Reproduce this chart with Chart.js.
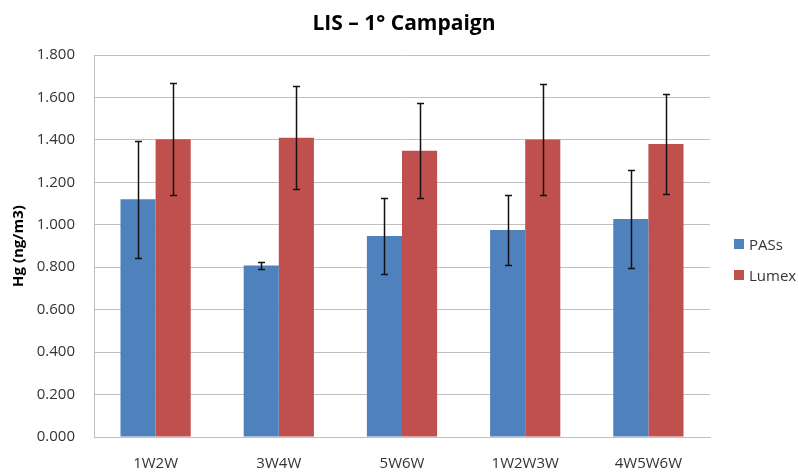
<!DOCTYPE html>
<html>
<head>
<meta charset="utf-8">
<script src="https://cdn.jsdelivr.net/npm/chart.js@4/dist/chart.umd.min.js"></script>
<style>
html,body{margin:0;padding:0;background:#fff;}
#wrap{position:relative;width:798px;height:472px;}
#title{position:absolute;left:5px;top:8px;width:798px;height:28px;line-height:28px;text-align:center;font-family:'Open Sans',sans-serif;font-weight:bold;font-size:21px;color:#000;}
.lg{position:absolute;left:734px;height:20px;display:flex;align-items:center;font-family:'Open Sans',sans-serif;font-size:15px;color:#333;white-space:nowrap;}
.lg i{display:inline-block;width:10px;height:10px;margin-right:5px;}
</style>
</head>
<body>
<div id="wrap">
  <canvas id="c" width="798" height="472"></canvas>
  <div id="title"></div>
  <div id="legend"></div>
</div>
<script>
const chartTitle = "LIS – 1° Campaign";
const categories = ["1W2W", "3W4W", "5W6W", "1W2W3W", "4W5W6W"];
const seriesNames = ["PASs", "Lumex"];
const pasValues = [1.120, 0.808, 0.947, 0.975, 1.027];
const pasErrors = [0.276, 0.016, 0.177, 0.163, 0.233];
const lumexValues = [1.403, 1.410, 1.349, 1.402, 1.381];
const lumexErrors = [0.265, 0.242, 0.225, 0.260, 0.235];
const yTicks = [0, 0.2, 0.4, 0.6, 0.8, 1.0, 1.2, 1.4, 1.6, 1.8];
const seriesColors = ['#4F81BD', '#C0504D'];

const FONT = "'Open Sans', Lato, sans-serif";

const errorBarPlugin = {
  id: 'errorBars',
  afterDatasetsDraw(chart) {
    const ctx = chart.ctx;
    const yScale = chart.scales.y;
    chart.data.datasets.forEach((ds, di) => {
      const meta = chart.getDatasetMeta(di);
      if (meta.hidden) return;
      meta.data.forEach((el, i) => {
        const v = ds.data[i];
        const e = ds.errors[i];
        const x = Math.round(el.x) + 0.5;
        const yt = Math.round(yScale.getPixelForValue(v + e)) + 0.5;
        const yb = Math.round(yScale.getPixelForValue(v - e)) + 0.5;
        ctx.save();
        ctx.strokeStyle = '#111';
        ctx.lineWidth = 1.5;
        ctx.beginPath();
        ctx.moveTo(x, yt); ctx.lineTo(x, yb);
        ctx.moveTo(x - 3.5, yt); ctx.lineTo(x + 3.5, yt);
        ctx.moveTo(x - 3.5, yb); ctx.lineTo(x + 3.5, yb);
        ctx.stroke();
        ctx.restore();
      });
    });
  }
};

const chart = new Chart(document.getElementById('c'), {
  type: 'bar',
  data: {
    labels: categories,
    datasets: [
      { label: seriesNames[0], data: pasValues, errors: pasErrors, backgroundColor: seriesColors[0], borderWidth: 0 },
      { label: seriesNames[1], data: lumexValues, errors: lumexErrors, backgroundColor: seriesColors[1], borderWidth: 0 }
    ]
  },
  options: {
    responsive: false,
    animation: false,
    devicePixelRatio: 1,
    layout: { padding: { left: 10, right: 88, top: 55, bottom: 0 } },
    datasets: { bar: { categoryPercentage: 0.57, barPercentage: 1.0 } },
    plugins: {
      title: { display: false },
      legend: { display: false },
      tooltip: { enabled: false }
    },
    scales: {
      x: {
        afterFit(scale) { scale.height = 35; },
        grid: { display: false, drawTicks: false },
        border: { display: true, color: '#bfbfbf' },
        ticks: { color: '#333', font: { family: FONT, size: 15 }, padding: 18 }
      },
      y: {
        min: 0, max: 1.8,
        afterFit(scale) { scale.width = 84; },
        afterBuildTicks(scale) { scale.ticks = yTicks.map(v => ({ value: v })); },
        grid: { color: '#c0c0c0', drawTicks: false },
        border: { display: true, color: '#bfbfbf' },
        ticks: {
          color: '#333', font: { family: FONT, size: 15 }, padding: 19,
          callback: v => Number(v).toFixed(3)
        },
        title: {
          display: true, text: 'Hg (ng/m3)', color: '#000',
          font: { family: FONT, size: 15, weight: 'bold' }, padding: { top: 0, bottom: 4 }
        }
      }
    }
  },
  plugins: [errorBarPlugin]
});

document.getElementById('title').textContent = chartTitle;

// HTML legend built from the series arrays
const legendTops = [234, 265];
const lg = document.getElementById('legend');
seriesNames.forEach((name, i) => {
  const d = document.createElement('div');
  d.className = 'lg';
  d.style.top = legendTops[i] + 'px';
  d.innerHTML = '<i style="background:' + seriesColors[i] + '"></i>';
  d.appendChild(document.createTextNode(name));
  lg.appendChild(d);
});
</script>
</body>
</html>
